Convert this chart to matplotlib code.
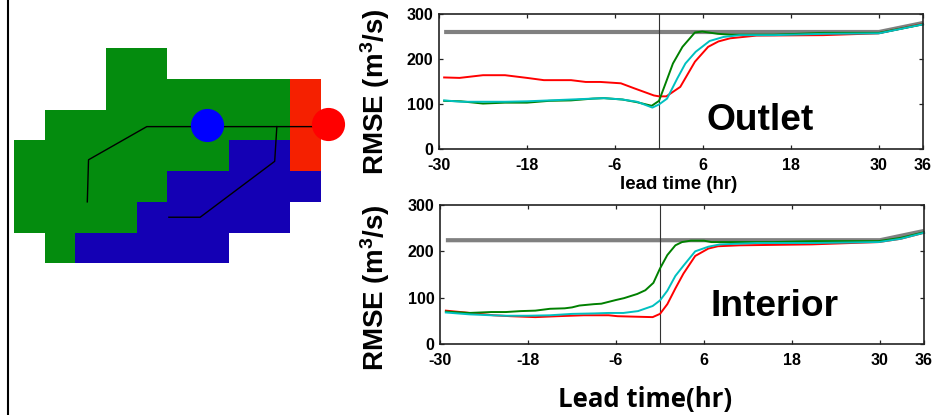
import matplotlib
matplotlib.use("Agg")
import matplotlib.pyplot as plt
from matplotlib.colors import ListedColormap
from matplotlib.lines import Line2D
import numpy as np

plt.rcParams['font.family'] = ['Liberation Sans', 'DejaVu Sans']
plt.rcParams['mathtext.fontset'] = 'custom'
plt.rcParams['mathtext.bf'] = 'Liberation Sans:bold'
plt.rcParams['mathtext.rm'] = 'Liberation Sans:bold'
plt.rcParams['axes.unicode_minus'] = False

W, H = 950, 415

# Basin map: 0 empty, 1 green, 2 blue, 3 red
basin_rows = [
    [0, 0, 0, 1, 1, 0, 0, 0, 0, 0],
    [0, 0, 0, 1, 1, 1, 1, 1, 1, 3],
    [0, 1, 1, 1, 1, 1, 1, 1, 1, 3],
    [1, 1, 1, 1, 1, 1, 1, 2, 2, 3],
    [1, 1, 1, 1, 1, 2, 2, 2, 2, 2],
    [1, 1, 1, 1, 2, 2, 2, 2, 2, 0],
    [0, 1, 2, 2, 2, 2, 2, 0, 0, 0],
]
river_main_x = [2.39, 2.43, 4.33, 10.2]
river_main_y = [5.0, 3.63, 2.55, 2.55]
river_branch_x = [8.57, 8.5, 6.07, 5.05]
river_branch_y = [2.55, 3.68, 5.5, 5.5]
gauge_x = [6.28, 10.23]
gauge_y = [2.49, 2.47]

xticks = [-30, -18, -6, 6, 18, 30, 36]
yticks = [0, 100, 200, 300]

# Outlet panel
o_red_t = [-29.3, -27.2, -24, -21, -18, -15.7, -12, -10, -8, -5.2, -3.4, -0.7, 0, 1, 2.9, 4.9, 6.7, 8.1, 9.7, 13.3, 22.4, 29.9, 36]
o_red_v = [159, 158, 164, 164, 158, 153, 153, 149, 149, 146, 135, 119, 117, 117, 138, 194, 227, 239, 246, 252, 253, 257, 278]
o_green_t = [-29.3, -27, -24, -21, -18, -15, -12, -9, -7.5, -5, -3, -1, 0, 0.9, 1.9, 3.2, 4.9, 5.9, 8, 9.8, 15.7, 22.5, 30, 36]
o_green_v = [107, 106, 101, 103, 103, 107, 108, 112, 113, 110, 104, 96, 107, 146, 190, 227, 259, 261, 256, 254, 254, 258, 258, 277]
o_cyan_t = [-29.3, -27, -24, -21, -18, -15, -12, -9, -7.5, -5, -3, -0.9, 0, 1.1, 2.5, 3.6, 5, 6.9, 8.8, 11, 15.7, 22.5, 30, 36]
o_cyan_v = [108, 105, 105, 105, 106, 108, 110, 112, 113, 110, 105, 92, 99, 112, 157, 190, 216, 240, 249, 253, 253, 256, 257, 277]
o_grey_t = [-29.3, 30, 36]
o_grey_v = [260, 260, 280]

# Interior panel
i_red_t = [-29.2, -25.9, -22.7, -20.4, -17, -14, -12.2, -10.4, -7, -5.8, -3.5, -1, 0, 1, 2.1, 3.2, 4.8, 6.6, 7.9, 10.9, 20.7, 29.8, 32.8, 36]
i_red_v = [72, 67, 62, 60, 58, 60, 61, 62, 62, 60, 59, 58, 65, 86, 120, 152, 190, 206, 211, 213, 215, 220, 227, 240]
i_green_t = [-29.2, -26, -23, -21, -19, -17, -15, -13, -12, -11, -9, -8, -6, -4.9, -3.1, -2, -0.9, 0, 1, 2.1, 3, 4.2, 6, 7, 15.5, 21, 29.8, 32.8, 36]
i_green_v = [70, 67, 69, 69, 71, 72, 76, 77, 79, 83, 86, 87, 95, 99, 108, 116, 132, 163, 192, 213, 220, 223, 223, 220, 220, 222, 222, 229, 241]
i_cyan_t = [-29.2, -26, -23, -21, -18, -15, -12, -9, -7, -5, -3, -1, 0, 1, 2.1, 3.2, 4.8, 6.6, 8.2, 13.2, 21, 29.8, 32.8, 36]
i_cyan_v = [68, 64, 62, 61, 61, 62, 65, 66, 67, 67, 71, 82, 94, 115, 147, 169, 200, 210, 215, 218, 218, 220, 227, 240]
i_grey_t = [-29.2, 30, 36]
i_grey_v = [224, 224, 244]

panel_title = ["Outlet", "Interior"]
ylabel = r"RMSE (m$\mathbf{^{3}}$/s)"
xlabel_top = "lead time (hr)"
xlabel_bottom = "Lead time(hr)"

fig = plt.figure(figsize=(W / 100, H / 100), dpi=100, facecolor="white")


def box(left, top, right, bottom):
    return [left / W, 1 - bottom / H, (right - left) / W, (bottom - top) / H]


def px(x, y):
    return x / W, 1 - y / H


fig.add_artist(Line2D([8 / W, 8 / W], [0, 1], color="black", lw=1.5))

# Map
m = fig.add_axes(box(14, 48.3, 320.7, 263.3))
m.pcolormesh(np.arange(11), np.arange(8), np.array(basin_rows),
             cmap=ListedColormap(["white", "#048C0E", "#1400B4", "#F52000"]),
             vmin=0, vmax=3)
m.set_xlim(0, 10)
m.set_ylim(7, 0)
m.axis("off")
m.plot(river_main_x, river_main_y, color="black", lw=1.0, clip_on=False)
m.plot(river_branch_x, river_branch_y, color="black", lw=1.0, clip_on=False)
m.scatter(gauge_x[0], gauge_y[0], s=570, color="#0000FF", linewidths=0, zorder=5, clip_on=False)
m.scatter(gauge_x[1], gauge_y[1], s=570, color="#FF0000", linewidths=0, zorder=5, clip_on=False)


def panel(rect, grey, red, green, cyan):
    ax = fig.add_axes(rect)
    ax.plot(*grey, color="#808080", lw=3, solid_capstyle="butt", clip_on=False)
    ax.axvline(0, color="#333333", lw=0.8)
    ax.plot(*red, color="#FF0000", lw=1.4, clip_on=False)
    ax.plot(*green, color="#008000", lw=1.4, clip_on=False)
    ax.plot(*cyan, color="#00C0C0", lw=1.4, clip_on=False)
    ax.set_xlim(-30, 36)
    ax.set_ylim(0, 300)
    ax.set_xticks(xticks)
    ax.set_yticks(yticks)
    ax.tick_params(direction="in", top=True, right=True, length=3, width=0.9,
                   labelsize=11.5, color="#222222")
    ax.tick_params(axis="x", pad=6.5)
    ax.tick_params(axis="y", pad=4)
    for label in ax.get_xticklabels() + ax.get_yticklabels():
        label.set_fontweight("bold")
    for s in ax.spines.values():
        s.set_linewidth(1.2)
        s.set_color("#222222")
    return ax


panel(box(439, 14, 923, 149), (o_grey_t, o_grey_v), (o_red_t, o_red_v),
      (o_green_t, o_green_v), (o_cyan_t, o_cyan_v))
panel(box(440, 205, 924, 344), (i_grey_t, i_grey_v), (i_red_t, i_red_v),
      (i_green_t, i_green_v), (i_cyan_t, i_cyan_v))

fig.text(*px(760, 130), panel_title[0], fontsize=26.7, fontweight="bold", ha="center", va="baseline")
fig.text(*px(775, 316), panel_title[1], fontsize=26.7, fontweight="bold", ha="center", va="baseline")
fig.text(*px(375, 92), ylabel, fontsize=20, fontweight="bold", rotation=90, ha="center", va="center")
fig.text(*px(375, 288), ylabel, fontsize=20, fontweight="bold", rotation=90, ha="center", va="center")
fig.text(*px(679, 189), xlabel_top, fontsize=13.5, fontweight="bold", ha="center", va="baseline")
fig.text(*px(645, 407), xlabel_bottom, fontsize=18.5, fontweight="bold", family="Open Sans", ha="center", va="baseline")

fig.savefig("out.png", dpi=100)
